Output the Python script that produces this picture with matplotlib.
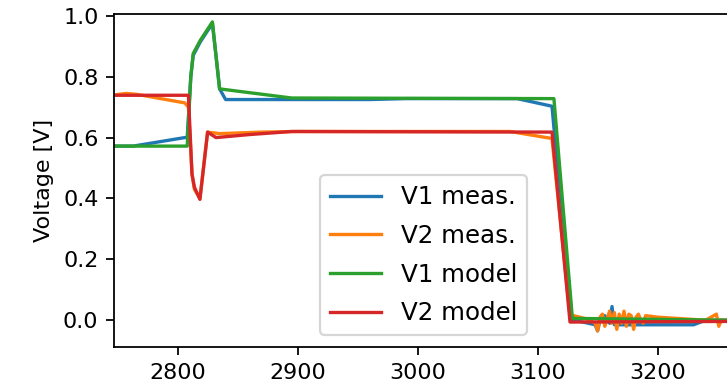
import matplotlib
matplotlib.use("Agg")
import matplotlib.pyplot as plt

# time axis values and voltages
t_v1_meas = [2747, 2763, 2806, 2808, 2811, 2813, 2819, 2829, 2835, 2840, 2960, 2990,
             3083, 3112, 3128, 3140, 3148, 3150, 3152, 3156, 3160, 3162, 3164, 3170,
             3200, 3230, 3240, 3260]
v1_meas = [0.572, 0.572, 0.600, 0.600, 0.80, 0.870, 0.915, 0.975, 0.76, 0.725, 0.725, 0.728,
           0.728, 0.703, 0.002, -0.008, -0.015, -0.035, 0.000, 0.015, -0.010, 0.045, -0.015, -0.015,
           -0.015, -0.015, 0.000, 0.000]

t_v2_meas = [2747, 2757, 2766, 2806, 2809, 2812, 2814, 2818.6, 2825, 2835, 2870, 2900,
             3077, 3112, 3127, 3130, 3140, 3148, 3150, 3152, 3154, 3156, 3160, 3162,
             3164, 3166, 3168, 3170, 3172, 3174, 3176, 3178, 3180, 3182, 3184, 3186,
             3188, 3190, 3200, 3220, 3240, 3249, 3251, 3253, 3260]
v2_meas = [0.740, 0.745, 0.742, 0.714, 0.70, 0.48, 0.43, 0.400, 0.618, 0.613, 0.618, 0.620,
           0.620, 0.597, 0.015, 0.015, 0.005, -0.010, -0.035, 0.010, 0.020, -0.020, 0.030, -0.010,
           0.025, -0.030, 0.020, -0.010, 0.030, -0.020, 0.020, 0.015, -0.030, 0.010, 0.020, 0.000,
           -0.010, 0.015, 0.010, 0.005, 0.000, 0.020, -0.020, 0.000, 0.000]

t_v1_model = [2747, 2808, 2811, 2813, 2819, 2829, 2835, 2895, 3113.6, 3129, 3260]
v1_model = [0.572, 0.572, 0.80, 0.876, 0.920, 0.980, 0.760, 0.730, 0.728, 0.006, 0.000]

t_v2_model = [2747, 2809, 2812, 2814, 2818.6, 2825, 2832, 2860, 2895, 3112, 3127, 3260]
v2_model = [0.739, 0.739, 0.48, 0.437, 0.397, 0.618, 0.600, 0.610, 0.620, 0.618, -0.006, -0.004]

labels = ["V1 meas.", "V2 meas.", "V1 model", "V2 model"]
xticks = [2800, 2900, 3000, 3100, 3200]
yticks = [0.0, 0.2, 0.4, 0.6, 0.8, 1.0]

dpi = 160
fig = plt.figure(figsize=(727 / dpi, 389 / dpi), dpi=dpi)
ax = fig.add_axes([114 / 727, 42 / 389, 627.6 / 727, 333 / 389])

ax.plot(t_v1_meas, v1_meas, color="C0", label=labels[0])
ax.plot(t_v2_meas, v2_meas, color="C1", label=labels[1])
ax.plot(t_v1_model, v1_model, color="C2", label=labels[2])
ax.plot(t_v2_model, v2_model, color="C3", label=labels[3])

ax.set_xlim(2747, 3270)
ax.set_ylim(-0.088, 1.006)
ax.set_xticks(xticks)
ax.set_yticks(yticks)
ax.set_ylabel("Voltage [V]")

ax.legend(loc="lower left", bbox_to_anchor=(320 / 727, 54 / 389),
          bbox_transform=fig.transFigure, borderaxespad=0,
          fontsize=11, handlelength=2.1, labelspacing=0.6)

fig.savefig("out.png", dpi=dpi)
